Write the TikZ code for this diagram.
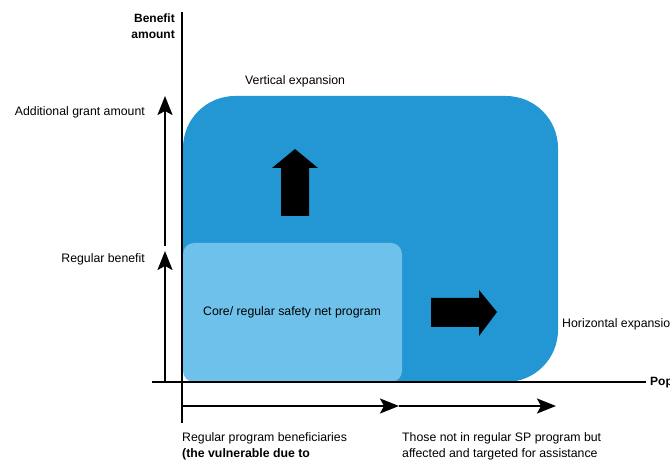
\documentclass[tikz,border=0pt]{standalone}
\usepackage{fontspec}
\setmainfont{Liberation Sans}
\usetikzlibrary{arrows.meta}
\definecolor{darkblue}{HTML}{2397D4}
\definecolor{lightblue}{HTML}{6EC1EA}
\begin{document}
\begin{tikzpicture}[x=1pt,y=-1pt,
  lbl/.style={font=\fontsize{12.3}{14}\selectfont, inner sep=0pt},
  axis/.style={line width=2.6pt},
  thinarrow/.style={line width=2pt,-{Stealth[length=19pt,width=15pt,inset=4pt]}},
  blockarrow/.style={fill=black, draw=none}]
\clip (0,0) rectangle (670,462);
\useasboundingbox (0,0) rectangle (670,462);
% blue regions
\fill[darkblue, rounded corners=52pt] (183,96) rectangle (558,382);
\fill[lightblue, rounded corners=11pt] (183,243) rectangle (402,382);
% block arrows
\fill[blockarrow] (272,168) -- (295,149) -- (318,168) -- (309,168) -- (309,216) -- (281,216) -- (281,168) -- cycle;
\fill[blockarrow] (431,298) -- (479,298) -- (479,290) -- (497,312) -- (479,336) -- (479,327) -- (431,327) -- cycle;
% axes
\coordinate (ytop) at (182,12);
\coordinate (ybot) at (182,423);
\coordinate (xl) at (152,382);
\coordinate (xr) at (646,382);
\draw[axis] (ytop) -- (ybot);
\draw[axis] (xl) -- (xr);
% left arrows
\coordinate (a1s) at (165,382);
\coordinate (a1e) at (165,251);
\coordinate (a2s) at (165,246);
\coordinate (a2e) at (165,96);
\draw[thinarrow] (a1s) -- (a1e);
\draw[thinarrow] (a2s) -- (a2e);
% bottom arrows
\coordinate (b1s) at (182,406);
\coordinate (b1e) at (399,406);
\coordinate (b2e) at (556,406);
\draw[thinarrow] (b1s) -- (b1e);
\draw[thinarrow] (b1e) -- (b2e);
% labels
\node[lbl, anchor=east, align=right, font=\fontsize{12}{16}\selectfont\bfseries] (ylab) at (175,26) {Benefit\\amount};
\node[lbl, anchor=west, font=\fontsize{12}{14}\selectfont\bfseries] (xlab) at (650,383) {Pop};
\node[lbl, anchor=east] (addl) at (145,112) {Additional grant amount};
\node[lbl, anchor=east] (regb) at (145,259) {Regular benefit};
\node[lbl, anchor=west] (vert) at (245,81) {Vertical expansion};
\node[lbl, anchor=west] (horiz) at (562,324) {Horizontal expansion};
\node[lbl] (core) at (292,312) {Core/ regular safety net program};
\node[lbl, anchor=north west, align=left, font=\fontsize{12.3}{16}\selectfont] (regp) at (182,432) {Regular program beneficiaries\\\textbf{(the vulnerable due to}};
\node[lbl, anchor=north west, align=left, font=\fontsize{12.3}{16}\selectfont] (those) at (402,432) {Those not in regular SP program but\\affected and targeted for assistance};
\end{tikzpicture}
\end{document}
